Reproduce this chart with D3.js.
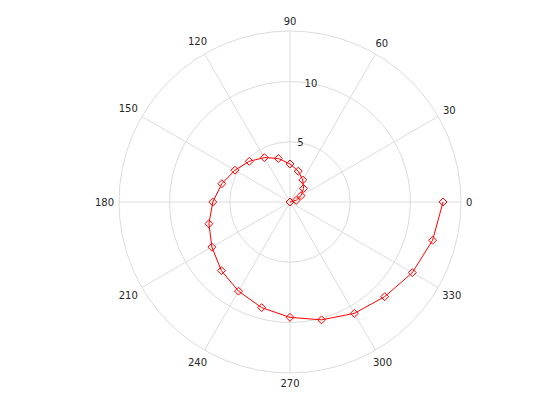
<!DOCTYPE html>
<html>
<head>
<meta charset="utf-8">
<script src="https://cdn.jsdelivr.net/npm/d3@7"></script>
<style>
  body { margin: 0; background: #fff; }
  text { font-family: "DejaVu Sans", sans-serif; font-size: 10px; fill: #262626; }
</style>
</head>
<body>
<div id="chart"></div>
<script>
const width = 560, height = 420;
const cx = 290, cy = 202, outerR = 171;

// angles (deg) and radii
const thetaDeg = [0, 15, 30, 45, 60, 75, 90, 105, 120, 135, 150, 165, 180,
  195, 210, 225, 240, 255, 270, 285, 300, 315, 330, 345, 360];
const rho = [0, 0.53, 1.06, 1.59, 2.12, 2.65, 3.16, 3.74, 4.26, 4.78, 5.28, 5.86, 6.41,
  6.97, 7.49, 8.06, 8.55, 9.08, 9.58, 10.13, 10.68, 11.12, 11.73, 12.26, 12.71];
const rTicks = [5, 10];
const angleTicks = [0, 30, 60, 90, 120, 150, 180, 210, 240, 270, 300, 330];
const rMax = 14.2;

const svg = d3.select('#chart').append('svg')
  .attr('width', width).attr('height', height);
const g = svg.append('g').attr('transform', 'translate(' + cx + ',' + cy + ')');

const r = d3.scaleLinear().domain([0, rMax]).range([0, outerR]);
const rad = d => -d * Math.PI / 180;
const gridColor = '#dcdcdc';

// rings
g.selectAll('circle.ring')
  .data(rTicks.concat([rMax]))
  .enter().append('circle')
  .attr('class', 'ring')
  .attr('r', d => r(d))
  .attr('fill', 'none')
  .attr('stroke', gridColor)
  .attr('stroke-width', 1);

// spokes
g.selectAll('line.spoke')
  .data(angleTicks)
  .enter().append('line')
  .attr('class', 'spoke')
  .attr('x1', 0).attr('y1', 0)
  .attr('x2', d => r(rMax) * Math.cos(rad(d)))
  .attr('y2', d => r(rMax) * Math.sin(rad(d)))
  .attr('stroke', gridColor)
  .attr('stroke-width', 1);

// radius labels sit on the rings at 80 deg
g.selectAll('text.rlab')
  .data(rTicks)
  .enter().append('text')
  .attr('class', 'rlab')
  .attr('text-anchor', 'middle')
  .attr('dominant-baseline', 'central')
  .attr('x', d => r(d) * Math.cos(rad(80)))
  .attr('y', d => r(d) * Math.sin(rad(80)))
  .text(d => d);

// angle labels
const alab = g.selectAll('text.alab')
  .data(angleTicks)
  .enter().append('text')
  .attr('class', 'alab')
  .attr('text-anchor', 'middle')
  .attr('dominant-baseline', 'central')
  .text(d => d);
alab.each(function(d) {
  const bb = this.getBBox();
  const c = Math.cos(rad(d)), s = Math.sin(rad(d));
  const rr = outerR + 5 + Math.abs(c) * bb.width / 2 + Math.abs(s) * 5;
  d3.select(this).attr('x', rr * c).attr('y', rr * s);
});

// spiral
const pts = thetaDeg.map((t, i) => [r(rho[i]) * Math.cos(rad(t)), r(rho[i]) * Math.sin(rad(t))]);
g.append('path')
  .datum(pts)
  .attr('d', d3.line())
  .attr('fill', 'none')
  .attr('stroke', '#ff0000')
  .attr('stroke-width', 1);

g.selectAll('path.mk')
  .data(pts)
  .enter().append('path')
  .attr('class', 'mk')
  .attr('d', d3.symbol(d3.symbolDiamond2, 40)())
  .attr('transform', d => 'translate(' + d[0] + ',' + d[1] + ')')
  .attr('fill', 'none')
  .attr('stroke', '#ff0000')
  .attr('stroke-width', 1);
</script>
</body>
</html>
